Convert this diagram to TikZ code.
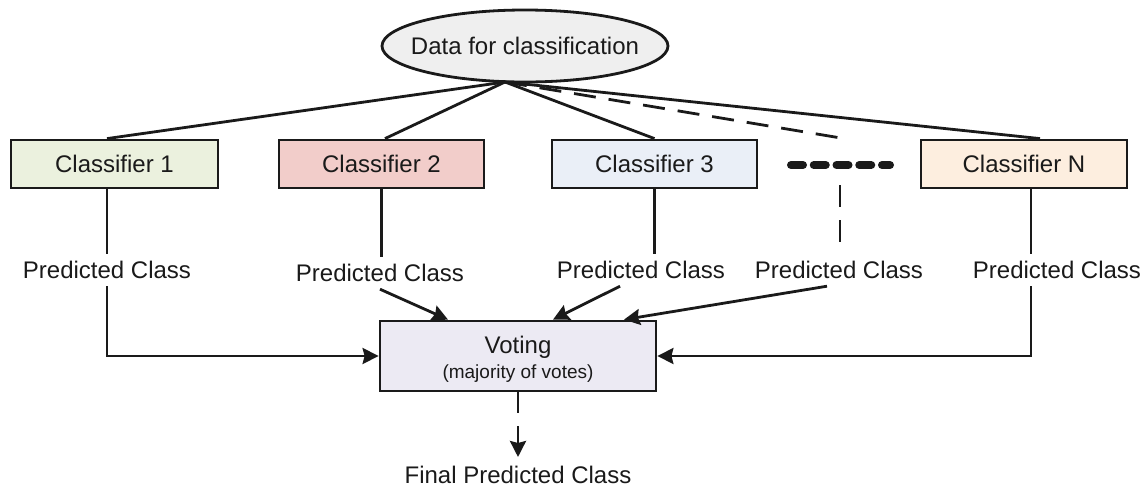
\documentclass[tikz,border=0pt]{standalone}
\usepackage{fontspec}
\setmainfont{Liberation Sans}
\usetikzlibrary{shapes.geometric,arrows.meta,calc}
\definecolor{ink}{HTML}{1A1A1A}
\definecolor{ellfill}{HTML}{EFEFEF}
\definecolor{cAfill}{HTML}{EBF1DE}
\definecolor{cBfill}{HTML}{F2CDCA}
\definecolor{cCfill}{HTML}{EAEFF7}
\definecolor{cNfill}{HTML}{FDEEDF}
\definecolor{votefill}{HTML}{ECEAF3}
\begin{document}
\begin{tikzpicture}[x=1pt,y=-1pt,
  bigfont/.style={font=\fontsize{24}{28}\selectfont},
  clsbox/.style={draw=ink,line width=2.8pt,minimum height=48pt,inner sep=0pt,bigfont,text=ink},
  lbl/.style={inner sep=0pt,minimum height=32pt,bigfont,text=ink},
  conn/.style={draw=ink,line width=2.8pt},
  arr/.style={conn,-{Stealth[length=16pt,width=16pt,inset=2pt]}},
  dsh/.style={conn,dash pattern=on 22pt off 13pt},
]
\useasboundingbox (0,0) rectangle (1146,488);

% source ellipse
\node[ellipse,draw=ink,line width=2.8pt,fill=ellfill,minimum width=286pt,minimum height=72pt,inner xsep=-20pt,inner ysep=0pt,bigfont,text=ink] (data) at (525,46) {Data for classification};
\coordinate (src) at (505,82);

% classifiers
\node[clsbox,fill=cAfill,minimum width=207pt] (c1) at (114.5,164) {Classifier 1};
\node[clsbox,fill=cBfill,minimum width=205pt] (c2) at (381.5,164) {Classifier 2};
\node[clsbox,fill=cCfill,minimum width=205pt] (c3) at (654.5,164) {Classifier 3};
\node[clsbox,fill=cNfill,minimum width=206pt] (cN) at (1024,164) {Classifier N};

% ellipsis dots
\coordinate (dotsL) at (791,165);
\coordinate (dotsR) at (890,165);
\draw[draw=ink,line width=8pt,line cap=round,dash pattern=on 12pt off 10.75pt] (dotsL) -- (dotsR);
\coordinate (dtop) at (841,138);
\coordinate (dbot) at (840,185);

% connectors from source
\draw[conn] (src) -- ([xshift=-7.5pt]c1.north);
\draw[conn] (src) -- ([xshift=3.5pt]c2.north);
\draw[conn] (src) -- (c3.north);
\draw[dsh] (src) -- (dtop);
\draw[conn] (src) -- ([xshift=16pt]cN.north);

% predicted class labels
\node[lbl] (p1) at (107,270) {Predicted Class};
\node[lbl] (p2) at (380,273) {Predicted Class};
\node[lbl] (p3) at (641,270) {Predicted Class};
\node[lbl] (p4) at (839,270) {Predicted Class};
\node[lbl] (pN) at (1057,270) {Predicted Class};

% voting
\node[draw=ink,line width=2.8pt,fill=votefill,minimum width=276pt,minimum height=70pt,inner sep=0pt,align=center,text=ink] (vote) at (518,356)
  {{\fontsize{24}{28}\selectfont\rule{0pt}{23.5pt}Voting}\\[5pt]{\fontsize{19}{22}\selectfont (majority of votes)}};

% vertical links classifier -> label
\draw[conn] ([xshift=-7.5pt]c1.south) -- (p1.north);
\draw[conn] (c2.south) -- (c2.south |- p2.north);
\draw[conn] (c3.south) -- (c3.south |- p3.north);
\draw[dsh] (dbot) -- (dbot |- p4.north);
\draw[conn] ([xshift=7pt]cN.south) -- ([xshift=7pt]cN.south |- pN.north);

% label -> voting
\draw[arr] (p1.south) |- (vote.west);
\draw[arr] (p2.south) -- ([xshift=-70pt]vote.north);
\draw[arr] ([xshift=-21pt]p3.south) -- ([xshift=35pt]vote.north);
\draw[arr] ([xshift=-12pt]p4.south) -- ([xshift=106pt]vote.north);
\draw[arr] ([xshift=7pt]cN.south |- pN.south) |- (vote.east);

% final
\node[inner sep=0pt,bigfont,text=ink] (final) at (518,475) {Final Predicted Class};
\draw[arr,dash pattern=on 21pt off 13pt] (vote.south) -- ([yshift=9pt]final.north);
\end{tikzpicture}
\end{document}
